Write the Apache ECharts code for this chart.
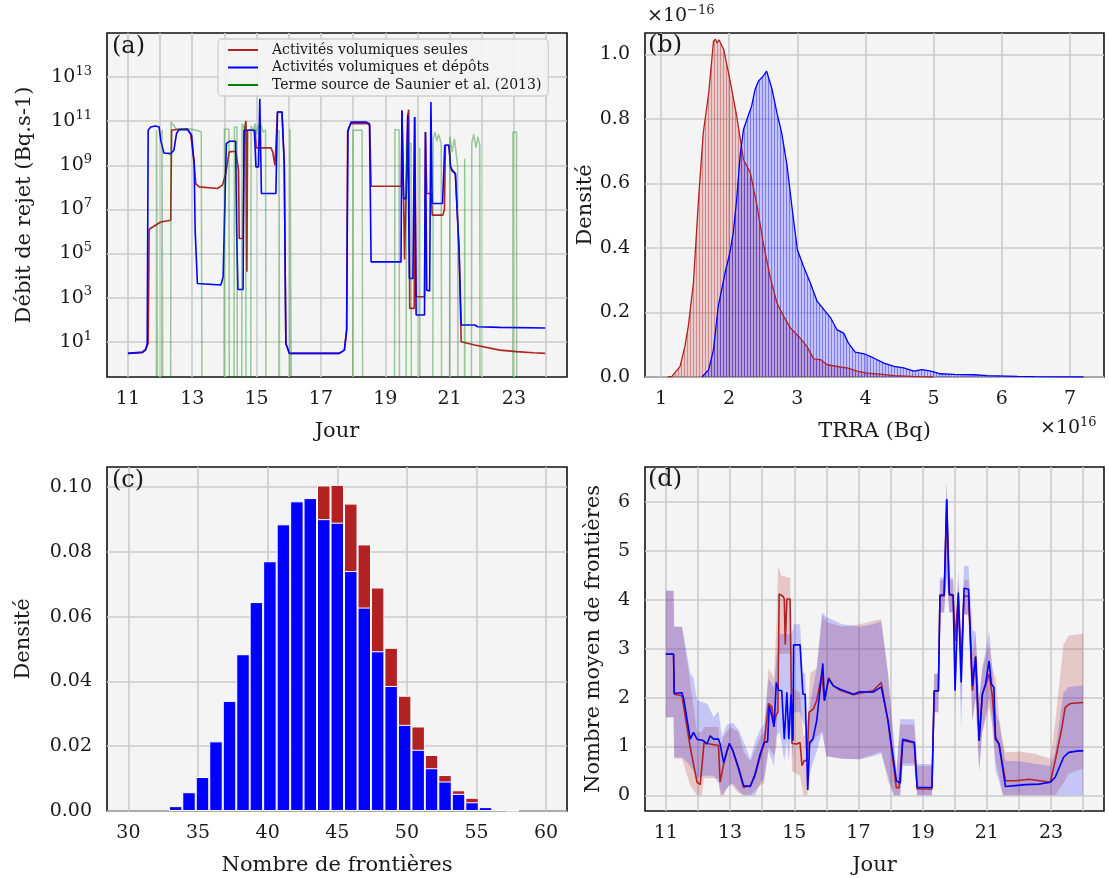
<!DOCTYPE html>
<html><head><meta charset="utf-8">
<script src="https://cdn.jsdelivr.net/npm/echarts@6/dist/echarts.min.js"></script>
<style>html,body{margin:0;padding:0;background:#fff}#c{width:1109px;height:878px}</style>
</head><body><div id="c"></div>
<script>
// ---------- Panel (a): release rate, [day, log10(Bq/s)] ----------
const ZERO = -10; // log10 floor standing for a zero release
const aRed = [[11.00,0.47],[11.45,0.50],[11.55,0.62],[11.63,0.92],[11.66,6.10],[12.02,6.43],[12.33,6.51],[12.36,10.60],[12.40,10.66],[12.85,10.66],[12.95,10.44],[13.06,9.08],[13.11,8.17],[13.21,8.02],[13.78,7.95],[13.94,8.10],[14.04,8.63],[14.15,9.61],[14.35,9.64],[14.44,8.78],[14.46,5.68],[14.58,5.68],[14.62,10.59],[14.67,11.01],[14.70,4.17],[14.72,10.59],[14.95,10.59],[14.99,9.79],[15.45,9.79],[15.50,9.61],[15.57,9.00],[15.62,8.93],[15.65,11.42],[15.79,11.42],[15.86,9.08],[15.91,0.92],[16.02,0.47],[17.57,0.47],[17.73,0.62],[17.80,1.53],[17.83,10.50],[17.92,10.89],[18.45,10.89],[18.52,10.80],[18.56,8.05],[19.50,8.05],[19.52,11.49],[19.57,7.49],[19.60,4.73],[19.65,4.73],[19.70,11.27],[19.73,11.52],[19.76,2.51],[19.90,2.51],[19.92,11.19],[19.96,3.04],[20.22,3.04],[20.25,10.51],[20.29,7.72],[20.43,7.72],[20.46,6.74],[20.79,6.74],[20.84,7.00],[20.87,9.91],[20.98,9.91],[21.03,8.93],[21.08,8.74],[21.18,8.62],[21.24,8.60],[21.30,5.00],[21.36,1.00],[21.78,0.85],[22.56,0.62],[23.08,0.55],[23.60,0.50],[23.97,0.47]];
const aBlue = [[11.00,0.47],[11.45,0.53],[11.55,0.65],[11.60,0.92],[11.63,10.59],[11.71,10.74],[11.86,10.78],[11.97,10.74],[12.02,10.13],[12.12,9.56],[12.33,9.53],[12.43,9.68],[12.51,10.44],[12.59,10.62],[12.85,10.62],[12.98,10.36],[13.06,9.08],[13.09,6.06],[13.16,3.64],[13.21,3.57],[13.89,3.57],[13.96,3.94],[14.02,7.57],[14.06,9.98],[14.15,10.09],[14.35,10.09],[14.38,6.06],[14.42,3.37],[14.58,3.37],[14.61,10.59],[14.93,10.59],[14.98,8.93],[15.06,8.93],[15.10,12.02],[15.15,7.72],[15.60,7.72],[15.65,11.42],[15.79,11.42],[15.86,9.08],[15.91,0.92],[16.02,0.47],[17.57,0.47],[17.73,0.62],[17.80,1.53],[17.84,10.59],[17.94,10.96],[18.40,10.96],[18.51,10.89],[18.56,4.62],[19.49,4.62],[19.52,11.49],[19.57,7.49],[19.65,7.49],[19.70,11.27],[19.75,3.87],[19.86,3.87],[19.91,11.19],[19.96,2.21],[20.22,2.21],[20.25,10.51],[20.29,3.34],[20.38,3.30],[20.42,11.87],[20.46,7.27],[20.78,7.27],[20.85,9.91],[20.98,9.91],[21.03,8.93],[21.08,8.78],[21.18,8.63],[21.24,8.60],[21.29,5.30],[21.36,1.76],[21.78,1.76],[21.88,1.68],[22.56,1.65],[23.97,1.62]];
const aGreen = [[11.00,ZERO],[11.88,ZERO],[11.89,10.60],[11.93,10.60],[11.94,ZERO],[12.05,ZERO],[12.06,10.60],[12.09,10.60],[12.10,ZERO],[12.32,ZERO],[12.34,10.96],[12.40,10.85],[12.50,10.66],[12.90,10.66],[13.10,10.60],[13.28,10.51],[13.32,ZERO],[13.98,ZERO],[14.00,10.63],[14.14,10.63],[14.16,ZERO],[14.29,ZERO],[14.31,10.74],[14.39,10.74],[14.41,ZERO],[14.53,ZERO],[14.55,10.89],[14.60,10.70],[14.66,10.89],[14.68,ZERO],[14.81,ZERO],[14.83,10.80],[14.90,10.50],[14.95,10.90],[15.00,10.40],[15.05,10.80],[15.12,10.95],[15.20,10.50],[15.28,10.60],[15.30,ZERO],[15.69,ZERO],[15.70,10.60],[15.72,ZERO],[16.03,ZERO],[16.04,10.63],[16.10,10.63],[16.11,ZERO],[17.98,ZERO],[18.00,10.59],[18.05,10.66],[18.28,10.60],[18.31,ZERO],[19.28,ZERO],[19.30,10.62],[19.43,10.60],[19.45,ZERO],[19.64,ZERO],[19.66,9.99],[19.80,9.99],[19.82,ZERO],[20.06,ZERO],[20.07,9.80],[20.08,ZERO],[20.47,ZERO],[20.49,10.20],[20.55,10.50],[20.60,10.10],[20.66,10.40],[20.74,10.00],[20.76,ZERO],[20.99,ZERO],[21.01,10.30],[21.08,9.60],[21.15,10.20],[21.25,9.00],[21.27,ZERO],[21.46,ZERO],[21.47,9.30],[21.48,ZERO],[21.67,ZERO],[21.69,10.00],[21.75,10.40],[21.82,9.80],[21.88,10.30],[21.94,9.90],[21.95,ZERO],[22.96,ZERO],[22.97,10.51],[23.08,10.51],[23.09,ZERO],[24.00,ZERO]];
const dayTicks = [11,12,13,14,15,16,17,18,19,20,21,22,23,24];
const dayLabels = [11,13,15,17,19,21,23];
const logTicks = [1,3,5,7,9,11,13];

// ---------- Panel (b): TRRA density, [x (1e16 Bq), density (1e-16)] ----------
const bRed = [[1.10,0],[1.16,0.002],[1.28,0.033],[1.35,0.095],[1.40,0.157],[1.475,0.29],[1.55,0.55],[1.62,0.757],[1.70,0.88],[1.77,1.041],[1.80,1.047],[1.82,1.035],[1.85,1.045],[1.87,1.041],[1.92,1.015],[2.01,0.922],[2.11,0.809],[2.21,0.674],[2.31,0.633],[2.41,0.53],[2.50,0.416],[2.60,0.312],[2.70,0.23],[2.80,0.188],[2.90,0.152],[3.04,0.121],[3.14,0.095],[3.24,0.056],[3.34,0.054],[3.44,0.038],[3.63,0.031],[3.73,0.028],[3.88,0.018],[4.02,0.012],[4.22,0.009],[4.42,0.004],[4.76,0.001],[5.00,0]];
const bBlue = [[1.60,0],[1.62,0.002],[1.70,0.023],[1.77,0.085],[1.84,0.22],[1.94,0.323],[2.01,0.385],[2.06,0.447],[2.11,0.55],[2.16,0.685],[2.21,0.767],[2.26,0.798],[2.33,0.84],[2.38,0.891],[2.43,0.917],[2.50,0.933],[2.55,0.948],[2.63,0.891],[2.70,0.819],[2.77,0.757],[2.85,0.654],[2.92,0.529],[3.00,0.395],[3.09,0.343],[3.19,0.292],[3.29,0.235],[3.39,0.209],[3.49,0.183],[3.58,0.147],[3.68,0.136],[3.75,0.105],[3.85,0.077],[3.98,0.072],[4.12,0.059],[4.27,0.043],[4.42,0.033],[4.56,0.028],[4.71,0.018],[4.83,0.023],[4.96,0.018],[5.10,0.010],[5.30,0.008],[5.59,0.007],[5.79,0.004],[6.23,0.002],[6.48,0.001],[7.20,0]];
const bXTicks = [1,2,3,4,5,6,7];
const bYTicks = [0,0.2,0.4,0.6,0.8,1.0];

// ---------- Panel (c): histogram of number of frontiers ----------
const cBinCenters = [33.39,34.35,35.32,36.29,37.26,38.23,39.19,40.16,41.13,42.10,43.06,44.03,45.00,45.97,46.94,47.90,48.87,49.84,50.81,51.77,52.74,53.71,54.68,55.65,56.61,57.58];
const cRed  = [0.001,0.003,0.007,0.014,0.023,0.034,0.047,0.060,0.072,0.083,0.092,0.1005,0.1007,0.0949,0.0823,0.069,0.0504,0.0356,0.0261,0.0173,0.0111,0.0064,0.0041,0.0013,0.0006,0.0002];
const cBlue = [0.0015,0.0058,0.0105,0.0215,0.034,0.0484,0.0645,0.0771,0.0885,0.0956,0.0966,0.0901,0.089,0.0741,0.0628,0.0493,0.0386,0.0266,0.0189,0.0132,0.0091,0.0053,0.0027,0.0012,0.0005,0.0002];
const cXTicks = [30,35,40,45,50,55,60];
const cYTicks = [0,0.02,0.04,0.06,0.08,0.10];

// ---------- Panel (d): mean number of frontiers ----------
const dRedMean = [[11.00,2.89],[11.24,2.89],[11.26,2.07],[11.50,2.04],[11.76,0.98],[11.97,0.27],[12.07,0.22],[12.12,0.23],[12.19,1.08],[12.38,1.05],[12.64,1.02],[12.69,0.27],[12.80,0.64],[12.98,1.06],[13.09,0.91],[13.26,0.55],[13.42,0.16],[13.63,0.20],[13.78,0.40],[13.94,0.80],[14.06,1.05],[14.20,1.88],[14.30,1.81],[14.37,1.46],[14.44,1.65],[14.49,1.70],[14.53,4.12],[14.64,4.08],[14.69,4.02],[14.72,3.09],[14.77,4.02],[14.87,4.02],[14.93,1.06],[15.08,1.05],[15.18,1.08],[15.24,0.61],[15.31,0.71],[15.40,0.71],[15.46,1.70],[15.60,1.77],[15.70,1.94],[15.86,2.48],[15.94,1.94],[16.07,2.41],[16.22,2.24],[16.43,2.15],[16.85,2.06],[17.04,2.09],[17.45,2.14],[17.71,2.31],[17.92,1.53],[18.18,0.16],[18.26,0.15],[18.38,1.12],[18.74,1.08],[18.83,0.13],[19.29,0.13],[19.36,2.13],[19.49,2.13],[19.54,4.08],[19.67,4.08],[19.75,6.06],[19.83,4.10],[19.95,4.08],[20.01,3.16],[20.11,4.08],[20.20,2.69],[20.29,4.08],[20.43,4.08],[20.55,2.14],[20.65,2.84],[20.76,1.12],[20.86,2.07],[21.07,2.48],[21.17,2.04],[21.22,2.04],[21.27,1.19],[21.38,1.05],[21.58,0.30],[21.89,0.30],[22.31,0.33],[22.98,0.27],[23.13,0.71],[23.34,1.39],[23.44,1.80],[23.60,1.88],[24.00,1.90]];
const dBlueMean = [[11.00,2.89],[11.24,2.89],[11.26,2.09],[11.50,2.10],[11.55,2.00],[11.76,1.15],[11.86,1.29],[11.97,1.15],[12.17,1.12],[12.28,1.05],[12.38,1.22],[12.49,1.15],[12.64,1.15],[12.69,1.05],[12.80,0.67],[12.90,0.91],[12.98,1.06],[13.09,0.91],[13.26,0.57],[13.42,0.20],[13.63,0.18],[13.78,0.44],[13.94,0.85],[14.06,1.08],[14.17,1.10],[14.22,1.83],[14.30,1.63],[14.37,1.40],[14.44,2.31],[14.51,2.15],[14.61,2.14],[14.69,1.15],[14.77,2.11],[14.83,1.15],[14.90,2.07],[14.96,1.12],[14.98,3.08],[15.18,3.08],[15.27,2.07],[15.34,2.07],[15.42,0.11],[15.48,1.08],[15.58,1.15],[15.70,1.53],[15.89,2.70],[15.94,1.94],[16.07,2.38],[16.22,2.24],[16.43,2.17],[16.85,2.07],[17.04,2.12],[17.45,2.11],[17.71,2.22],[17.92,1.53],[18.18,0.30],[18.30,0.25],[18.38,1.15],[18.54,1.12],[18.74,1.08],[18.83,0.16],[19.29,0.16],[19.36,2.14],[19.49,2.14],[19.54,4.10],[19.67,4.10],[19.75,6.06],[19.83,4.12],[19.95,4.10],[20.01,2.14],[20.11,4.15],[20.20,2.31],[20.29,4.24],[20.43,4.22],[20.55,2.24],[20.60,2.28],[20.65,2.84],[20.76,1.12],[20.86,2.07],[20.96,2.28],[21.07,2.75],[21.14,2.28],[21.22,2.21],[21.27,1.15],[21.38,1.05],[21.58,0.18],[21.89,0.20],[22.20,0.22],[22.62,0.23],[22.98,0.27],[23.13,0.37],[23.39,0.78],[23.55,0.88],[23.86,0.91],[24.00,0.91]];
// [day, low, high]
const dRedBand = [[11.00,1.60,4.19],[11.24,1.60,4.19],[11.26,0.75,3.45],[11.50,0.75,3.45],[11.76,0.20,2.30],[11.97,0.00,1.30],[12.12,0.00,1.30],[12.19,0.35,1.40],[12.64,0.35,1.40],[12.69,0.00,1.00],[12.80,0.00,1.20],[13.00,0.25,1.40],[13.26,0.05,1.30],[13.42,0.00,0.90],[13.63,0.00,0.70],[13.94,0.20,1.20],[14.06,0.25,1.30],[14.20,1.00,2.60],[14.37,0.80,2.40],[14.45,1.00,3.60],[14.50,2.90,4.70],[14.60,2.90,4.50],[14.87,2.90,4.45],[14.93,0.50,2.20],[15.18,0.40,2.10],[15.28,0.00,1.20],[15.40,0.00,1.30],[15.50,1.00,2.50],[15.70,1.20,2.60],[15.87,1.30,3.70],[16.00,0.80,3.55],[16.50,0.75,3.45],[17.04,0.74,3.50],[17.71,0.90,3.61],[17.92,0.30,2.50],[18.10,0.00,1.00],[18.18,0.00,0.40],[18.30,0.00,1.45],[18.38,0.65,1.45],[18.74,0.65,1.45],[18.83,0.00,0.60],[19.29,0.00,0.60],[19.36,1.70,2.50],[19.49,1.70,2.50],[19.54,3.75,4.40],[19.67,3.75,4.40],[19.75,4.50,6.45],[19.83,3.75,4.40],[19.95,3.75,4.40],[20.01,2.30,3.50],[20.11,3.60,4.40],[20.20,1.90,3.20],[20.29,3.70,4.40],[20.43,3.70,4.40],[20.55,1.50,2.90],[20.65,2.00,3.30],[20.76,0.50,2.00],[20.86,1.30,2.60],[21.07,1.80,3.10],[21.17,1.40,2.60],[21.27,0.70,2.40],[21.38,0.40,1.60],[21.50,0.00,1.10],[21.58,0.00,0.88],[22.00,0.00,0.90],[22.50,0.00,0.85],[22.98,0.00,0.75],[23.13,0.00,1.50],[23.39,0.25,3.09],[23.55,0.45,3.27],[24.00,0.55,3.30]];
const dBlueBand = [[11.00,1.60,4.19],[11.24,1.60,4.19],[11.26,0.78,3.45],[11.50,0.78,3.45],[11.55,0.75,3.30],[11.76,0.60,2.50],[11.86,0.50,2.40],[11.97,0.35,1.95],[12.17,0.40,1.90],[12.30,0.40,1.87],[12.49,0.40,1.60],[12.64,0.25,1.73],[12.75,0.00,1.20],[12.90,0.15,1.45],[13.09,0.25,1.48],[13.26,0.10,1.35],[13.42,0.00,1.10],[13.63,0.00,0.75],[13.78,0.00,1.10],[13.94,0.25,1.35],[14.06,0.35,1.45],[14.20,0.90,2.40],[14.37,0.60,2.20],[14.44,1.20,2.80],[14.55,1.30,3.30],[14.69,0.70,3.30],[14.77,1.10,3.30],[14.83,0.70,3.30],[14.90,1.30,3.30],[14.96,0.70,3.40],[14.98,1.70,3.50],[15.18,1.70,3.50],[15.27,1.50,2.50],[15.34,1.40,2.50],[15.42,0.00,1.30],[15.50,0.50,1.90],[15.70,0.90,2.60],[15.87,1.30,3.75],[16.00,0.80,3.65],[16.50,0.75,3.50],[17.04,0.74,3.45],[17.45,0.80,3.50],[17.71,0.85,3.56],[17.92,0.40,2.50],[18.10,0.00,1.20],[18.18,0.00,0.50],[18.30,0.00,1.56],[18.38,0.60,1.56],[18.74,0.60,1.56],[18.83,0.00,0.64],[19.29,0.00,0.64],[19.36,1.70,2.48],[19.49,1.70,2.48],[19.54,3.74,4.46],[19.67,3.74,4.46],[19.75,4.50,6.40],[19.83,3.74,4.46],[19.95,3.74,4.45],[20.01,1.73,2.90],[20.11,3.50,4.60],[20.20,1.30,3.30],[20.29,3.70,4.70],[20.43,3.70,4.70],[20.55,1.50,3.37],[20.65,2.00,3.35],[20.76,0.50,2.00],[20.86,1.30,2.60],[21.07,2.00,3.37],[21.17,1.50,2.60],[21.27,0.50,1.70],[21.38,0.30,1.50],[21.50,0.00,1.00],[21.58,0.00,0.71],[22.00,0.00,0.70],[22.98,0.00,0.60],[23.13,0.00,0.90],[23.39,0.00,2.10],[23.55,0.00,2.22],[24.00,0.00,2.25]];
const dYTicks = [0,1,2,3,4,5,6];

// ---------- styling ----------
const FONT = 'DejaVu Serif';
const TXT = '#1a1a1a';
const RED = '#b22222', BLUE = '#0000ff';
const GRIDC = '#cbcbcb';

// striped fill imitating the thin histogram bars under the density curves
function stripes(base, stripe) {
  const cv = document.createElement('canvas');
  cv.width = 3; cv.height = 4;
  const ctx = cv.getContext('2d');
  ctx.fillStyle = base; ctx.fillRect(0, 0, 3, 4);
  ctx.fillStyle = stripe; ctx.fillRect(0, 0, 1, 4);
  return {image: cv, repeat: 'repeat'};
}

function xAx(g, min, max, ticks, labels, name, fmt) {
  return {type:'value', gridIndex:g, min, max, name, nameLocation:'middle', nameGap:44,
    nameTextStyle:{fontFamily:FONT, fontSize:21, color:TXT},
    axisLine:{show:false}, axisTick:{show:false, customValues:ticks},
    axisLabel:{customValues:labels, formatter:fmt || (v=>String(v)), margin:13, fontFamily:FONT, fontSize:19, color:TXT},
    splitLine:{show:true, lineStyle:{color:GRIDC, width:1.6}}};
}
function yAx(g, min, max, ticks, name, gap, fmt, rich) {
  return {type:'value', gridIndex:g, min, max, name, nameLocation:'middle', nameGap:gap, nameRotate:90,
    nameTextStyle:{fontFamily:FONT, fontSize:21, color:TXT},
    axisLine:{show:false}, axisTick:{show:false, customValues:ticks},
    axisLabel:{customValues:ticks, formatter:fmt, margin:15, fontFamily:FONT, fontSize:19, color:TXT, rich},
    splitLine:{show:true, lineStyle:{color:GRIDC, width:1.6}}};
}
const gridBase = {show:true, backgroundColor:'#f4f4f4', borderColor:'#111', borderWidth:1.6, outerBoundsMode:'none', containLabel:false};

function bandSeries(band, color, g) {
  return {type:'custom', xAxisIndex:g, yAxisIndex:g, silent:true, clip:true, z:1,
    data:[[band[0][0], band[0][1]]],
    renderItem:(params, api) => {
      if (params.dataIndex !== 0) return null;
      const pts = [];
      for (let i = 0; i < band.length; i++) pts.push(api.coord([band[i][0], band[i][2]]));
      for (let i = band.length - 1; i >= 0; i--) pts.push(api.coord([band[i][0], band[i][1]]));
      return {type:'polygon', shape:{points:pts}, style:{fill:color, stroke:null}};
    }};
}
function line(name, data, color, width, g, extra) {
  return Object.assign({name, type:'line', xAxisIndex:g, yAxisIndex:g, data, showSymbol:false, symbol:'none',
    color, lineStyle:{color, width}, animation:false, silent:true, z:3, clip:true}, extra || {});
}

const sup = {s:{fontSize:13, fontFamily:FONT, color:TXT, padding:[0,0,11,0]}};

const option = {
  animation:false,
  backgroundColor:'#ffffff',
  grid:[
    Object.assign({left:107, top:33, width:460, height:344}, gridBase),
    Object.assign({left:645, top:33, width:459, height:344}, gridBase),
    Object.assign({left:107, top:467, width:460, height:344}, gridBase),
    Object.assign({left:645, top:467, width:459, height:344}, gridBase)
  ],
  xAxis:[
    xAx(0, 10.35, 24.65, dayTicks, dayLabels, 'Jour'),
    xAx(1, 0.765, 7.5, bXTicks, bXTicks, 'TRRA (Bq)'),
    xAx(2, 28.46, 61.5, cXTicks, cXTicks, 'Nombre de frontières'),
    xAx(3, 10.35, 24.65, dayTicks, dayLabels, 'Jour')
  ],
  yAxis:[
    yAx(0, -0.6, 15.0, logTicks, 'Débit de rejet (Bq.s-1)', 72, v => '10{s|' + v + '}', sup),
    yAx(1, 0, 1.066, bYTicks, 'Densité', 44, v => v.toFixed(1)),
    yAx(2, 0, 0.1062, cYTicks, 'Densité', 73, v => v.toFixed(2)),
    yAx(3, -0.32, 6.72, dYTicks, 'Nombre moyen de frontières', 41, v => String(v))
  ],
  legend:{
    data:['Activités volumiques seules','Activités volumiques et dépôts','Terme source de Saunier et al. (2013)'],
    left:218, top:39, orient:'vertical', icon:'rect', itemWidth:30, itemHeight:2, itemGap:3.5,
    padding:[4,7,4,10], backgroundColor:'rgba(244,244,244,0.9)', borderColor:'#d0d0d0', borderWidth:1.3, borderRadius:4,
    textStyle:{fontFamily:FONT, fontSize:14, color:TXT, padding:[0,0,0,9]}, selectedMode:false
  },
  graphic:[
    {type:'text', left:112, top:35, z:100, style:{text:'(a)', fontFamily:FONT, fontSize:24, fill:TXT}},
    {type:'text', left:648, top:34, z:100, style:{text:'(b)', fontFamily:FONT, fontSize:24, fill:TXT}},
    {type:'text', left:112, top:469, z:100, style:{text:'(c)', fontFamily:FONT, fontSize:24, fill:TXT}},
    {type:'text', left:648, top:468, z:100, style:{text:'(d)', fontFamily:FONT, fontSize:24, fill:TXT}},
    {type:'text', left:647, top:4, z:100, style:{text:'×10{s|−16}', fontFamily:FONT, fontSize:19, fill:TXT, rich:sup}},
    {type:'text', left:1040, top:416, z:100, style:{text:'×10{s|16}', fontFamily:FONT, fontSize:19, fill:TXT, rich:sup}}
  ],
  series:[
    line('Activités volumiques seules', aRed.map(p => [p[0], p[1]]), RED, 1.6, 0),
    line('Activités volumiques et dépôts', aBlue.map(p => [p[0], p[1]]), BLUE, 1.6, 0),
    line('Terme source de Saunier et al. (2013)', aGreen.map(p => [p[0], p[1]]), '#008000', 1.5, 0, {lineStyle:{color:'#008000', width:1.5, opacity:0.38}}),

    line('b-red', bRed, RED, 1.3, 1, {areaStyle:{color:stripes('rgba(178,34,34,0.2)', 'rgba(178,34,34,0.38)'), opacity:1}}),
    line('b-blue', bBlue, BLUE, 1.3, 1, {areaStyle:{color:stripes('rgba(0,0,255,0.2)', 'rgba(0,0,255,0.36)'), opacity:1}}),

    {name:'c-red', type:'bar', xAxisIndex:2, yAxisIndex:2, data:cBinCenters.map((x,i)=>[x, cRed[i]]), barWidth:13.5, barGap:'-100%',
      itemStyle:{color:RED, borderColor:'#ffffff', borderWidth:1}, silent:true, z:2},
    {name:'c-blue', type:'bar', xAxisIndex:2, yAxisIndex:2, data:cBinCenters.map((x,i)=>[x, cBlue[i]]), barWidth:13.5, barGap:'-100%',
      itemStyle:{color:BLUE, borderColor:'#ffffff', borderWidth:1}, silent:true, z:2},

    bandSeries(dRedBand, 'rgba(178,34,34,0.21)', 3),
    bandSeries(dBlueBand, 'rgba(0,0,255,0.19)', 3),
    line('d-red', dRedMean, RED, 1.6, 3),
    line('d-blue', dBlueMean, BLUE, 1.6, 3)
  ]
};
const chart = echarts.init(document.getElementById('c'), null, {renderer:'canvas'});
chart.setOption(option);
</script>
</body></html>
